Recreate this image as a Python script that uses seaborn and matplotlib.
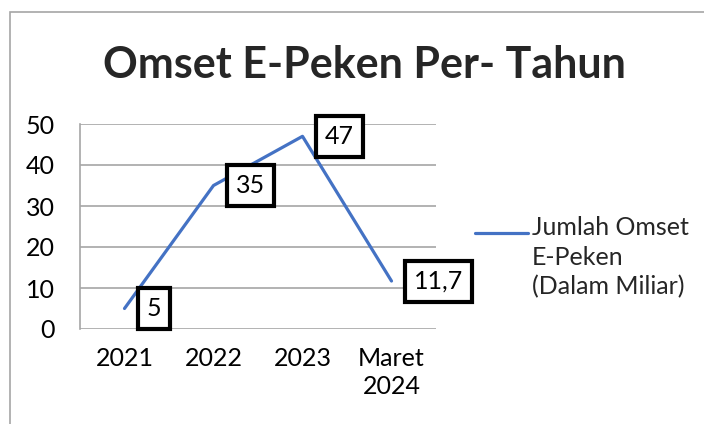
import numpy as np
import pandas as pd
import matplotlib
matplotlib.use("Agg")
import matplotlib.pyplot as plt
import seaborn as sns
from matplotlib.patches import Rectangle
from matplotlib.lines import Line2D

# data
categories = ["2021", "2022", "2023", "Maret\n2024"]
omset = [5, 35, 47, 11.7]
value_labels = ["5", "35", "47", "11,7"]
series_name = "Jumlah Omset\nE-Peken\n(Dalam Miliar)"
title = "Omset E-Peken Per- Tahun"

sns.set_style("white")
plt.rcParams["font.family"] = ["Lato", "DejaVu Sans"]

LINE_COLOR = "#4472C4"
GRID_COLOR = "#A6A6A6"
FS = 18

df = pd.DataFrame({"tahun": categories, "omset": omset})

fig = plt.figure(figsize=(7.04, 4.24), dpi=100)
ax = fig.add_axes([80 / 704, 1 - 329 / 424, 356 / 704, 205 / 424])

sns.lineplot(data=df, x="tahun", y="omset", ax=ax, color=LINE_COLOR,
             linewidth=2.3, sort=False)

ax.set_xlim(-0.5, len(categories) - 0.5)
ax.set_ylim(0, 50)
ax.set_yticks(np.arange(0, 51, 10))
ax.yaxis.grid(True, color=GRID_COLOR, linewidth=1.2)
ax.set_axisbelow(True)
for side in ["top", "right", "bottom"]:
    ax.spines[side].set_visible(False)
ax.spines["left"].set_color(GRID_COLOR)
ax.spines["left"].set_linewidth(1.2)
ax.tick_params(axis="both", length=0, labelsize=FS, colors="black")
ax.tick_params(axis="y", pad=18)
ax.tick_params(axis="x", pad=13)
for t in ax.get_xticklabels():
    t.set_linespacing(1.25)
ax.set_xlabel("")
ax.set_ylabel("")

# boxed data labels to the right of each point
for i, (v, lab) in enumerate(zip(omset, value_labels)):
    ax.annotate(lab, xy=(i, v), xytext=(16, 0), textcoords="offset points",
                ha="left", va="center", fontsize=FS, color="black",
                bbox=dict(boxstyle="square,pad=0.36", fc="white", ec="black", lw=3))

fig.text(364 / 704, 1 - 65 / 424, title, ha="center", va="center",
         fontsize=31, fontweight="bold")

# legend drawn by hand so the line sits on the first text line
leg_y = 1 - 233 / 424
fig.add_artist(Line2D([475 / 704, 528 / 704], [leg_y, leg_y],
                      transform=fig.transFigure, color=LINE_COLOR, linewidth=2.3))
fig.text(532 / 704, 1 - 216 / 424, series_name, ha="left", va="top",
         fontsize=FS, linespacing=1.35)

# chart frame (only top and left visible in the crop)
fig.patches.append(Rectangle((10 / 704, -0.05), 1.0, 1 - 12 / 424 + 0.05,
                             transform=fig.transFigure, fill=False,
                             ec="#A6A6A6", lw=1.2))

fig.savefig("out.png", dpi=100)
